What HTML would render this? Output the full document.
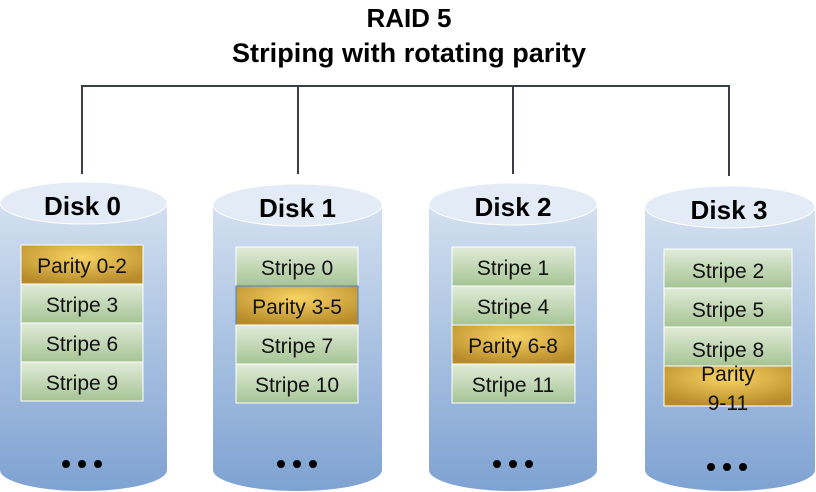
<!DOCTYPE html>
<html><head><meta charset="utf-8"><style>
html,body{margin:0;padding:0;background:#fff;}
svg{display:block;font-family:"Liberation Sans",sans-serif;}
</style></head><body>
<svg width="816" height="492" viewBox="0 0 816 492" xmlns="http://www.w3.org/2000/svg">
<defs>
<linearGradient id="body" x1="0" y1="0" x2="0" y2="1">
<stop offset="0" stop-color="#d3e0f0"/><stop offset="1" stop-color="#7ea2d2"/></linearGradient>
<linearGradient id="green" x1="0" y1="0" x2="0" y2="1">
<stop offset="0" stop-color="#e1ecd8"/><stop offset="1" stop-color="#a6c495"/></linearGradient>
<radialGradient id="gold" cx="0.5" cy="0.3" r="0.7">
<stop offset="0" stop-color="#f8d363"/><stop offset="1" stop-color="#b88c2a"/></radialGradient>
</defs>
<text x="409" y="27" text-anchor="middle" font-size="26" font-weight="bold" textLength="85">RAID 5</text>
<text x="409" y="62" text-anchor="middle" font-size="27" font-weight="bold" textLength="354">Striping with rotating parity</text>
<path d="M82 174V86H729V176M298 86V174M513 86V174" fill="none" stroke="#3b3f48" stroke-width="2"/>

<g>
<path d="M0 203V470A83.5 21 0 0 0 167 470V203Z" fill="url(#body)"/>
<ellipse cx="83.5" cy="203" rx="83.5" ry="21" fill="#e2ebf6" stroke="#fff" stroke-width="1"/>
<text x="82.5" y="215" text-anchor="middle" font-size="26" font-weight="bold" textLength="77">Disk 0</text>
</g>
<g>
<path d="M213 205V470A84.5 21 0 0 0 382 470V205Z" fill="url(#body)"/>
<ellipse cx="297.5" cy="205" rx="84.5" ry="21" fill="#e2ebf6" stroke="#fff"/>
<text x="297.5" y="217" text-anchor="middle" font-size="26" font-weight="bold" textLength="77">Disk 1</text>
</g>
<g>
<path d="M429 204V470A84 21 0 0 0 597 470V204Z" fill="url(#body)"/>
<ellipse cx="513" cy="204" rx="84" ry="21" fill="#e2ebf6" stroke="#fff"/>
<text x="513" y="216" text-anchor="middle" font-size="26" font-weight="bold" textLength="77">Disk 2</text>
</g>
<g>
<path d="M645 207V470A85 21 0 0 0 815 470V207Z" fill="url(#body)"/>
<ellipse cx="730" cy="207" rx="85" ry="21" fill="#e2ebf6" stroke="#fff"/>
<text x="729" y="219" text-anchor="middle" font-size="26" font-weight="bold" textLength="77">Disk 3</text>
</g>

<g stroke="#fff" stroke-width="1">
<rect x="21" y="245" width="122" height="39" fill="url(#gold)"/>
<rect x="21" y="284" width="122" height="39" fill="url(#green)"/>
<rect x="21" y="323" width="122" height="39" fill="url(#green)"/>
<rect x="21" y="362" width="122" height="39" fill="url(#green)"/>

<rect x="236" y="247" width="122" height="39" fill="url(#green)"/>
<rect x="236" y="286" width="122" height="39" fill="url(#gold)" stroke="#4a7fd0"/>
<rect x="236" y="325" width="122" height="39" fill="url(#green)"/>
<rect x="236" y="364" width="122" height="39" fill="url(#green)"/>

<rect x="452" y="247" width="123" height="39" fill="url(#green)"/>
<rect x="452" y="286" width="123" height="39" fill="url(#green)"/>
<rect x="452" y="325" width="123" height="39" fill="url(#gold)"/>
<rect x="452" y="364" width="123" height="39" fill="url(#green)"/>

<rect x="664" y="249" width="128" height="39" fill="url(#green)"/>
<rect x="664" y="288" width="128" height="39" fill="url(#green)"/>
<rect x="664" y="327" width="128" height="39" fill="url(#green)"/>
<rect x="664" y="366" width="128" height="40" fill="url(#gold)"/>
</g>
<g font-size="21" text-anchor="middle" fill="#111">
<text x="82" y="273">Parity 0-2</text>
<text x="82" y="312">Stripe 3</text>
<text x="82" y="351">Stripe 6</text>
<text x="82" y="390">Stripe 9</text>
<text x="297" y="275">Stripe 0</text>
<text x="297" y="314">Parity 3-5</text>
<text x="297" y="353">Stripe 7</text>
<text x="297" y="392">Stripe 10</text>
<text x="513" y="275">Stripe 1</text>
<text x="513" y="314">Stripe 4</text>
<text x="513" y="353">Parity 6-8</text>
<text x="513" y="392">Stripe 11</text>
<text x="728" y="278">Stripe 2</text>
<text x="728" y="317">Stripe 5</text>
<text x="728" y="357">Stripe 8</text>
<text x="728" y="381">Parity</text>
<text x="728" y="410">9-11</text>
</g>
<g fill="#000">
<circle cx="66" cy="464" r="4"/><circle cx="82" cy="464" r="4"/><circle cx="98" cy="464" r="4"/>
<circle cx="281" cy="464" r="4"/><circle cx="297" cy="464" r="4"/><circle cx="313" cy="464" r="4"/>
<circle cx="497" cy="464" r="4"/><circle cx="513" cy="464" r="4"/><circle cx="529" cy="464" r="4"/>
<circle cx="711" cy="467" r="4"/><circle cx="727" cy="467" r="4"/><circle cx="743" cy="467" r="4"/>
</g>
</svg>
</body></html>
